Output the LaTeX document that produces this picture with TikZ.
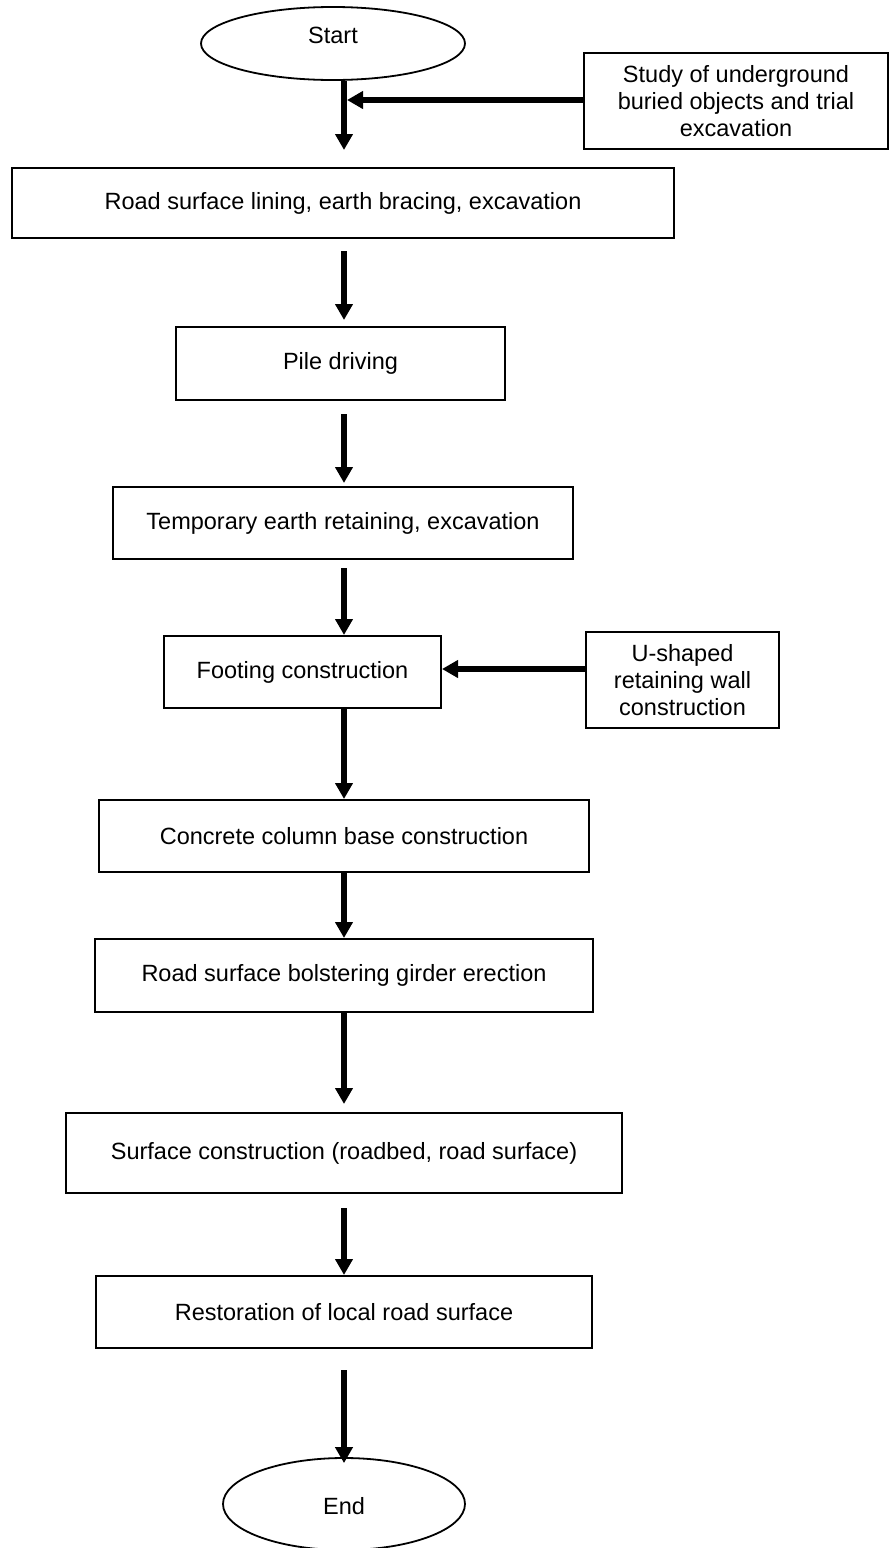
\documentclass[tikz,border=0pt]{standalone}
\usepackage{fontspec}
\setmainfont{Liberation Sans}
\usetikzlibrary{shapes.geometric,arrows.meta}

\tikzset{
  stepbox/.style={draw=black, line width=2pt, inner sep=0pt, align=center},
  terminal/.style={ellipse, draw=black, line width=1.8pt, inner sep=0pt},
  caption/.style={inner sep=0pt, align=center},
  flow/.style={line width=5.5pt, -{Triangle[length=16pt,width=17pt]}},
}

\begin{document}
\begin{tikzpicture}[x=1pt, y=-1pt, font=\fontsize{23.5}{27}\selectfont]
\useasboundingbox (0,0) rectangle (890,1548);
\fill[white] (0,0) rectangle (890,1548);

% terminals
\node[terminal, minimum width=264pt, minimum height=73pt] (start) at (333,43.5) {};
\node[caption] (startlbl) at (333,35) {Start};
\node[terminal, minimum width=242pt, minimum height=92pt] (end) at (344,1504) {};
\node[caption] (endlbl) at (344,1506) {End};

% process steps
\node[stepbox, minimum width=662pt, minimum height=70pt] (road) at (343,203)
  {Road surface lining, earth bracing, excavation};
\node[stepbox, minimum width=329pt, minimum height=73pt] (pile) at (340.5,363.5)
  {Pile driving};
\node[stepbox, minimum width=460pt, minimum height=72pt] (temp) at (343,523)
  {Temporary earth retaining, excavation};
\node[stepbox, minimum width=277pt, minimum height=72pt] (footing) at (302.5,672)
  {Footing construction};
\node[stepbox, minimum width=490pt, minimum height=72pt] (concrete) at (344,836)
  {Concrete column base construction};
\node[stepbox, minimum width=498pt, minimum height=73pt] (bolster) at (344,975.5)
  {Road surface bolstering girder erection};
\node[stepbox, minimum width=556pt, minimum height=80pt] (surface) at (344,1153)
  {Surface construction (roadbed, road surface)};
\node[stepbox, minimum width=496pt, minimum height=72pt] (restore) at (344,1312)
  {Restoration of local road surface};

% side inputs
\node[stepbox, minimum width=304pt, minimum height=96pt] (study) at (736,101)
  {Study of underground\\buried objects and trial\\excavation};
\node[stepbox, minimum width=193pt, minimum height=96pt] (ushape) at (682.5,680)
  {U-shaped\\retaining wall\\construction};

% join points of the side inputs
\coordinate (join) at (347,100);
\coordinate (mainx) at (344,0);
\coordinate (uy) at (0,669);

% main flow
\draw[flow] (mainx |- start.south) -- ([yshift=17pt]mainx |- road.north);
\draw[flow] ([yshift=-12pt]mainx |- road.south) -- ([yshift=6pt]mainx |- pile.north);
\draw[flow] ([yshift=-13pt]mainx |- pile.south) -- ([yshift=3pt]mainx |- temp.north);
\draw[flow] ([yshift=-8pt]mainx |- temp.south) -- (mainx |- footing.north);
\draw[flow] (mainx |- footing.south) -- (concrete.north);
\draw[flow] (concrete.south) -- (bolster.north);
\draw[flow] (bolster.south) -- ([yshift=8pt]surface.north);
\draw[flow] ([yshift=-14pt]surface.south) -- (restore.north);
\draw[flow] ([yshift=-21pt]restore.south) -- ([yshift=-6pt]end.north);

% side flows
\draw[flow] (study.west |- join) -- (join);
\draw[flow] (ushape.west |- uy) -- (footing.east |- uy);
\end{tikzpicture}
\end{document}
